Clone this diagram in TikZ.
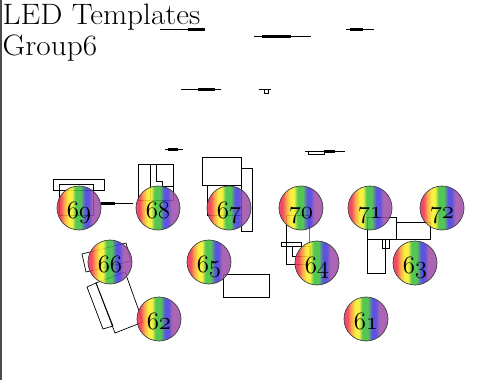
\documentclass[tikz,border=0pt]{standalone}
\definecolor{ledred}{RGB}{240,50,80}
\definecolor{ledorange}{RGB}{255,150,50}
\definecolor{ledyellow}{RGB}{245,240,40}
\definecolor{ledgreen}{RGB}{60,190,60}
\definecolor{ledblue}{RGB}{70,60,220}
\definecolor{ledpurple}{RGB}{160,80,170}
\pgfdeclarehorizontalshading{rainbow}{100bp}{color(0bp)=(ledred); color(29bp)=(ledred); color(33bp)=(ledorange); color(38bp)=(ledyellow); color(42bp)=(ledyellow); color(46bp)=(ledgreen); color(52bp)=(ledgreen); color(57bp)=(ledblue); color(61bp)=(ledblue); color(65bp)=(ledpurple); color(100bp)=(ledpurple)}
\newcommand\osn[1]{{\usefont{OML}{cmm}{m}{it}#1}}
\begin{document}
\begin{tikzpicture}[x=1pt,y=-1pt,
  box/.style={draw=black,line width=0.7pt},
  thinbar/.style={draw=black,line width=0.8pt},
  thickbar/.style={draw=black,line width=2.2pt},
  led/.style={circle,minimum size=44pt,inner sep=0pt,draw=black!75,line width=0.7pt,shading=rainbow,fill opacity=0.88},
  num/.style={anchor=base,inner sep=0pt,font=\fontsize{34}{34}\selectfont},
  title/.style={anchor=base west,inner sep=0pt,xscale=1.06,transform shape,font=\fontsize{29.5}{31}\selectfont}]
\useasboundingbox (0,0) rectangle (495,380);
\draw[line width=2pt,black!70] (1.2,0) -- (1.2,380);
\node[title] (title) at (2.5,24) {LED Templates};
\node[title] (group) at (2.5,55) {Group6};
% top bars
\draw[thinbar] (160,29) -- (205,29); \draw[thickbar] (188,29.5) -- (205,29.5);
\draw[thinbar] (254,36) -- (311,36); \draw[thickbar] (262,36.5) -- (291,36.5);
\draw[thinbar] (346,29) -- (374,29); \draw[thickbar] (350,29.5) -- (363,29.5);
\draw[thinbar] (181,89) -- (221,89); \draw[thickbar] (198,89.5) -- (215,89.5);
\draw[thinbar] (259,89) -- (271,89); \draw[box] (264,89) rectangle (268,93);
% rectangles behind LEDs
\draw[box] (53,179) rectangle (104,190);
\draw[box] (59,184) rectangle (93,215);
\draw[thinbar] (101,203) -- (133,203); \draw[thickbar] (101,203.5) -- (115,203.5);
\draw[thinbar] (165,149) -- (183,149); \draw[thickbar] (168,149.5) -- (178,149.5);
\draw[box] (138,164) rectangle (173,200);
\draw[box] (150,164) -- (150,200);
\draw[box] (156,164) -- (156,181) -- (162,181) -- (162,186) -- (173,186);
\draw[box] (202,157) rectangle (241,185);
\draw[box] (241,168) rectangle (252,231);
\draw[box] (207,185) rectangle (241,215);
\draw[thinbar] (305,151) -- (345,151); \draw[thickbar] (324,151.5) -- (335,151.5);
\draw[box] (308,151) rectangle (324,154);
\draw[box] (286,215) -- (286,264) -- (309,264);
\draw[line width=0.7pt,black!55] (309,215) -- (309,264);
\draw[box] (286,215) -- (309,215);
\draw[box] (281,242) rectangle (301,246);
\draw[box] (292,246) rectangle (310,256);
\draw[box] (367,217) rectangle (396,239);
\draw[box] (396,222) rectangle (430,239);
\draw[box] (367,239) rectangle (385,273);
\draw[box] (382,239) rectangle (389,248);
\draw[box] (223,274) rectangle (269,297);
\draw[box] (82,254) -- (126,243) -- (131,261) -- (86,272) -- cycle;
\draw[box] (87,287) -- (96,283) -- (113,326) -- (103,329) -- cycle;
\draw[box] (96,283) -- (125,272) -- (143,322) -- (115,333) -- cycle;
% LEDs
\foreach \n/\x/\y in {69/79/208,68/158/208,67/229/208,70/301/208,71/370/208,72/442/208,66/110/262,65/209/262,64/317/263,63/415/263,62/159/319,61/366/319}{
  \node[led] (n\n) at (\x,\y) {};
  \path (n\n.center) ++(0,10) node[num] (t\n) {\osn{\n}};
}
\end{tikzpicture}
\end{document}
